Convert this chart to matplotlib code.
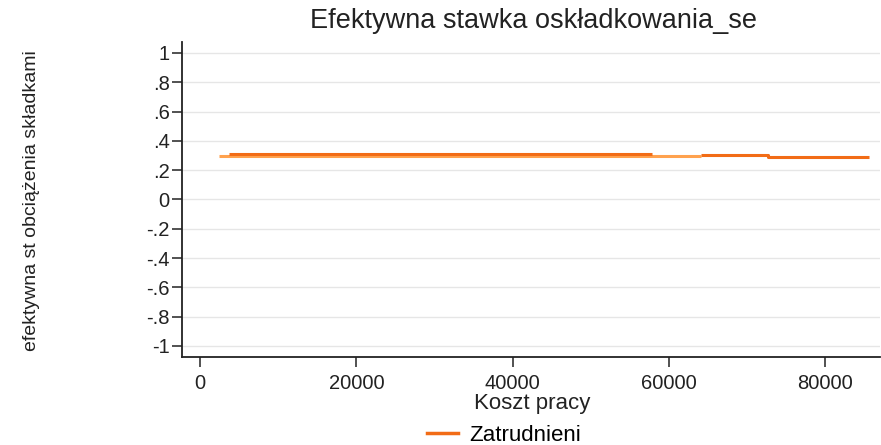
import matplotlib
matplotlib.use("Agg")
import matplotlib.pyplot as plt
import numpy as np
from matplotlib.lines import Line2D

plt.rcParams['font.family'] = ['Liberation Sans', 'DejaVu Sans']

# Data
dark_x = [3720, 57800, np.nan, 64130, 72700, 72700, 85630]
dark_y = [0.312, 0.312, np.nan, 0.302, 0.302, 0.292, 0.292]
light_x = [2440, 3720, 3720, 57800, 64130]
light_y = [0.298, 0.298, 0.300, 0.300, 0.300]

yticks = [1, 0.8, 0.6, 0.4, 0.2, 0, -0.2, -0.4, -0.6, -0.8, -1]
ytick_labels = ["1", ".8", ".6", ".4", ".2", "0", "-.2", "-.4", "-.6", "-.8", "-1"]
xticks = [0, 20000, 40000, 60000, 80000]
xtick_labels = ["0", "20000", "40000", "60000", "80000"]

title = "Efektywna stawka oskładkowania_se"
xlabel = "Koszt pracy"
ylabel = "efektywna st obciążenia składkami"
legend_label = "Zatrudnieni"

dark = "#f26c16"
light = "#ffa24e"

fig = plt.figure(figsize=(8.81, 4.45), dpi=100)
ax = fig.add_axes([0.2066, 0.1978, 0.7925, 0.7078])

for yt in yticks:
    ax.axhline(yt, color="#e6e6e6", lw=1.0, zorder=0)

ax.plot(light_x, light_y, color=light, lw=2.2, solid_capstyle="butt", zorder=2)
ax.plot(dark_x, dark_y, color=dark, lw=2.2, solid_capstyle="butt", zorder=3)

ax.set_xlim(-2304, 87040)
ax.set_ylim(-1.075, 1.075)
ax.set_yticks(yticks)
ax.set_yticklabels(ytick_labels)
ax.set_xticks(xticks)
ax.set_xticklabels(xtick_labels)
ax.tick_params(axis="both", labelsize=14.5, length=7, width=1.2, color="#333333",
               labelcolor="#222222", direction="out")
ax.tick_params(axis="x", pad=5)
ax.tick_params(axis="y", pad=2)

for s in ["top", "right"]:
    ax.spines[s].set_visible(False)
ax.spines["left"].set_linewidth(1.3)
ax.spines["bottom"].set_linewidth(1.3)
ax.spines["left"].set_color("#222222")
ax.spines["bottom"].set_color("#222222")
ax.set_facecolor("white")

fig.text(0.605, 0.952, title, ha="center", va="center", fontsize=19.5, color="#222222")
fig.text(0.604, 0.093, xlabel, ha="center", va="center", fontsize=16, color="#222222")
fig.text(0.036, 0.55, ylabel, ha="center", va="center", rotation=90, fontsize=14,
         color="#222222")

handle = Line2D([], [], color=dark, lw=2.5)
fig.legend([handle], [legend_label], loc="center", bbox_to_anchor=(0.572, 0.022),
           frameon=False, fontsize=16, handlelength=1.4, handletextpad=0.5,
           borderaxespad=0, borderpad=0)

fig.savefig("out.png", dpi=100, facecolor="white")
